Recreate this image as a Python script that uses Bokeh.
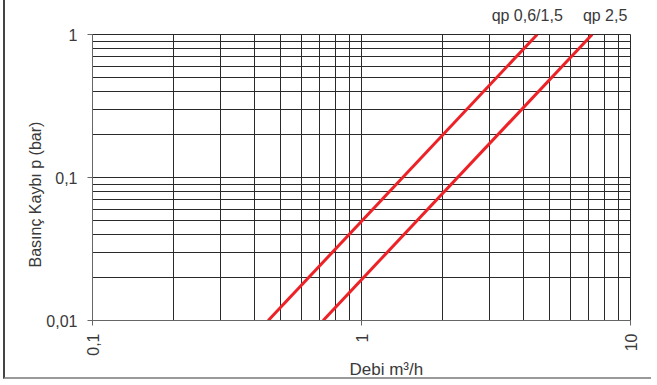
import math
from bokeh.plotting import figure
from bokeh.models import (FixedTicker, CustomJSTickFormatter, LogAxis, Title, Range1d)
from bokeh.embed import file_html
from bokeh.resources import INLINE

# Data (flow m3/h vs pressure loss bar)
series_names = ["qp 0,6/1,5", "qp 2,5"]
flow_a = [0.45, 4.5]
loss_a = [0.01, 1.0]
flow_b = [0.72, 7.2]
loss_b = [0.01, 1.0]

x_major = [0.1, 1, 10]
x_minor = [0.2, 0.3, 0.4, 0.5, 0.6, 0.7, 0.8, 0.9, 2, 3, 4, 5, 6, 7, 8, 9]
y_major = [0.01, 0.1, 1]
y_minor = [0.02, 0.03, 0.04, 0.05, 0.06, 0.07, 0.08, 0.09,
           0.2, 0.3, 0.4, 0.5, 0.6, 0.7, 0.8, 0.9]

x_title = "Debi m³/h"
y_title = "Basınç Kaybı p (bar)"

FONT = "Liberation Sans"
TXT = "#3a3a3a"
GRID = "#2a2a2a"
RED = "#ec2227"

p = figure(width=652, height=379, x_axis_type="log", y_axis_type="log",
           x_range=Range1d(0.1, 10), y_range=Range1d(0.01, 1),
           output_backend="svg", toolbar_location=None,
           min_border_left=87, min_border_right=27, min_border_top=34,
           min_border_bottom=59)
p.styles = {"position": "absolute", "left": "3px", "top": "0px",
            "border-left": "2px solid #444444", "border-bottom": "2px solid #999999",
            "border-right": "0px", "border-top": "0px",
            "clip-path": "inset(0px 4px 0px 0px)"}
p.background_fill_color = "white"
p.border_fill_color = "white"
p.outline_line_color = GRID
p.outline_line_width = 1

p.xaxis[0].ticker = FixedTicker(ticks=x_major, minor_ticks=x_minor)
p.yaxis[0].ticker = FixedTicker(ticks=y_major, minor_ticks=y_minor)

for ax in (p.xaxis[0], p.yaxis[0]):
    ax.formatter = CustomJSTickFormatter(code="return String(tick).replace('.', ',');")
    ax.major_label_text_font = FONT
    ax.major_label_text_font_size = "16px"
    ax.major_label_text_color = TXT
    ax.axis_line_color = "#666666"
    ax.major_tick_line_color = "#666666"
    ax.major_tick_in = 0
    ax.major_tick_out = 5
    ax.minor_tick_line_color = None

p.xaxis[0].major_label_orientation = math.pi / 2
p.xaxis[0].major_label_standoff = 8
p.yaxis[0].major_label_standoff = 10

for g in (p.xgrid[0], p.ygrid[0]):
    g.grid_line_color = GRID
    g.grid_line_width = 1
    g.minor_grid_line_color = GRID
    g.minor_grid_line_width = 1

p.line(flow_a, loss_a, line_color=RED, line_width=3)
p.line(flow_b, loss_b, line_color=RED, line_width=3)

# series labels above the plot, anchored near the top end of each line
px_per_decade = 269.0
label_pos = [flow_a[1] * 10 ** (-10 / px_per_decade), flow_b[1] * 10 ** (13 / px_per_decade)]
top_axis = LogAxis(ticker=FixedTicker(ticks=label_pos, minor_ticks=[]),
                   formatter=CustomJSTickFormatter(args=dict(names=series_names),
                                                   code="return names[index];"),
                   axis_line_color=None, major_tick_line_color=None,
                   minor_tick_line_color=None, major_label_standoff=5,
                   major_label_text_font=FONT, major_label_text_font_size="16px",
                   major_label_text_color=TXT)
p.add_layout(top_axis, "above")

# axis titles
p.add_layout(Title(text=x_title, align="left", offset=257, text_font=FONT,
                   text_font_size="17px", text_font_style="normal", text_color=TXT,
                   vertical_align="middle", standoff=0), "below")
p.add_layout(Title(text=y_title, align="left", offset=53, text_font=FONT,
                   text_font_size="16px", text_font_style="normal", text_color=TXT,
                   standoff=0), "left")

open("out.html", "w").write(file_html(p, INLINE))
